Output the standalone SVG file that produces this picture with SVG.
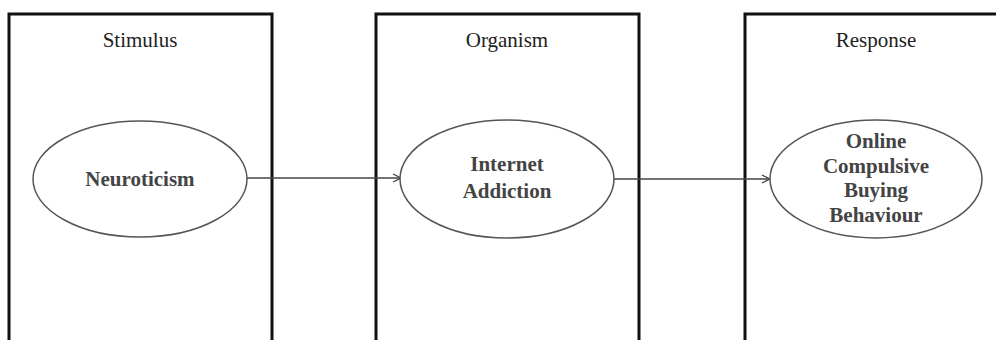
<svg xmlns="http://www.w3.org/2000/svg" width="996" height="340" viewBox="0 0 996 340">
<style>
.box{fill:none;stroke:#111;stroke-width:3}
.ell{fill:#fff;stroke:#555;stroke-width:1.5}
.hdr{font-family:"Liberation Serif","Times New Roman",serif;font-size:21px;fill:#222;text-anchor:middle}
.lbl{font-family:"Liberation Serif","Times New Roman",serif;font-size:21px;font-weight:bold;fill:#444;text-anchor:middle}
.con{stroke:#444;stroke-width:1.3;fill:none}
</style>
<defs>
<marker id="arr" viewBox="0 0 10 10" refX="9" refY="5" markerWidth="10" markerHeight="10" markerUnits="userSpaceOnUse" orient="auto">
<path d="M1,1 L9,5 L1,9" fill="none" stroke="#444" stroke-width="1.3"/>
</marker>
</defs>
<rect width="996" height="340" fill="#fff"/>
<g id="stimulus">
<path class="box" d="M9,342 V14 H272 V342"/>
<text class="hdr" x="140" y="47">Stimulus</text>
</g>
<g id="organism">
<path class="box" d="M376,342 V14 H639 V342"/>
<text class="hdr" x="507" y="47">Organism</text>
</g>
<g id="response">
<path class="box" d="M745,342 V14 H1000"/>
<text class="hdr" x="876" y="47">Response</text>
</g>
<g id="connectors">
<line class="con" x1="247" y1="178" x2="401" y2="178" marker-end="url(#arr)"/>
<line class="con" x1="614" y1="179" x2="770" y2="179" marker-end="url(#arr)"/>
</g>
<g id="neuroticism">
<ellipse class="ell" cx="140" cy="179" rx="107" ry="58"/>
<text class="lbl" x="140" y="186">Neuroticism</text>
</g>
<g id="internet-addiction">
<ellipse class="ell" cx="507" cy="179" rx="107" ry="59"/>
<text class="lbl" x="507" y="171">Internet</text>
<text class="lbl" x="507" y="198">Addiction</text>
</g>
<g id="ocbb">
<ellipse class="ell" cx="876" cy="179" rx="106" ry="59"/>
<text class="lbl" x="876" y="148">Online</text>
<text class="lbl" x="876" y="173">Compulsive</text>
<text class="lbl" x="876" y="197">Buying</text>
<text class="lbl" x="876" y="222">Behaviour</text>
</g>
</svg>
